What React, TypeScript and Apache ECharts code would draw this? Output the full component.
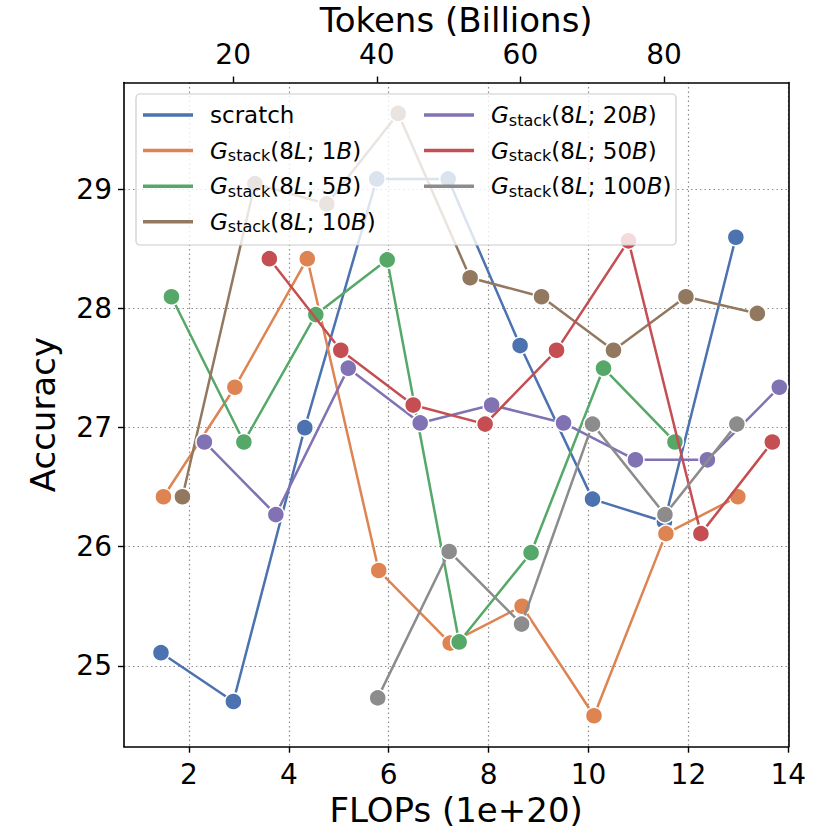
import React, { useEffect, useRef } from "react";
import * as echarts from "echarts";

const FONT = "DejaVu Sans";

const seriesNames = [
  "scratch",
  "G_stack(8L; 1B)",
  "G_stack(8L; 5B)",
  "G_stack(8L; 10B)",
  "G_stack(8L; 20B)",
  "G_stack(8L; 50B)",
  "G_stack(8L; 100B)",
];
const budgetLabels = ["", "1", "5", "10", "20", "50", "100"];
const seriesColors = ["#4C72B0", "#DD8452", "#55A868", "#937860", "#8172B3", "#C44E52", "#8C8C8C"];

const scratchX = [1.44, 2.89, 4.32, 5.76, 7.19, 8.63, 10.08, 11.52, 12.95];
const scratchY = [25.11, 24.70, 27.0, 29.09, 29.09, 27.69, 26.40, 26.21, 28.60];

const b1X = [1.49, 2.92, 4.37, 5.80, 7.23, 8.67, 10.11, 11.55, 12.99];
const b1Y = [26.42, 27.34, 28.42, 25.80, 25.19, 25.50, 24.58, 26.11, 26.42];

const b5X = [1.65, 3.10, 4.54, 5.97, 7.41, 8.85, 10.30, 11.73];
const b5Y = [28.10, 26.88, 27.95, 28.41, 25.20, 25.95, 27.50, 26.88];

const b10X = [1.87, 3.32, 4.76, 6.19, 7.63, 9.06, 10.50, 11.95, 13.38];
const b10Y = [26.42, 29.05, 28.88, 29.64, 28.26, 28.10, 27.65, 28.10, 27.96];

const b20X = [2.31, 3.74, 5.19, 6.63, 8.06, 9.50, 10.94, 12.38, 13.82];
const b20Y = [26.88, 26.27, 27.50, 27.04, 27.19, 27.04, 26.73, 26.73, 27.34];

const b50X = [3.61, 5.04, 6.49, 7.93, 9.36, 10.80, 12.25, 13.68];
const b50Y = [28.42, 27.65, 27.19, 27.03, 27.65, 28.57, 26.11, 26.88];

const b100X = [5.78, 7.21, 8.66, 10.08, 11.53, 12.97];
const b100Y = [24.73, 25.96, 25.35, 27.03, 26.27, 27.03];

const allX = [scratchX, b1X, b5X, b10X, b20X, b50X, b100X];
const allY = [scratchY, b1Y, b5Y, b10Y, b20Y, b50Y, b100Y];

const flopsTicks = [2, 4, 6, 8, 10, 12, 14];
const tokenTicks = [20, 40, 60, 80];
const accTicks = [25, 26, 27, 28, 29];

const X_MIN = 0.7;
const X_MAX = 14;
const T_MIN = 4.8;
const T_MAX = 97.3;
const Y_MIN = 24.32;
const Y_MAX = 29.9;

function legendFormatter(name: string): string {
  const idx = seriesNames.indexOf(name);
  if (idx <= 0) return "{n|" + name + "}";
  const b = budgetLabels[idx];
  return "{i|G}{s|stack}{n|(8}{i|L}{n|; " + b + "}{i|B}{n|)}";
}

const richStyles = {
  n: { fontFamily: FONT, fontSize: 23, lineHeight: 26, color: "#000" },
  i: { fontFamily: FONT, fontSize: 23, lineHeight: 26, fontStyle: "italic", color: "#000" },
  s: { fontFamily: FONT, fontSize: 16, lineHeight: 12, verticalAlign: "bottom", color: "#000" },
};

export default function App() {
  const ref = useRef<HTMLDivElement>(null);
  useEffect(() => {
    if (!ref.current) return;
    const chart = echarts.init(ref.current, undefined, { renderer: "svg" });
    const axisLineStyle = { color: "#000", width: 1.6 };
    const tickStyle = { color: "#000", width: 1.4 };
    const gridLineStyle = { color: "#8c8c8c", type: [1.5, 3] as any, width: 1.2 };
    const labelStyle = { fontFamily: FONT, fontSize: 28, color: "#000" };
    const nameStyle = { fontFamily: FONT, fontSize: 34, color: "#000" };

    const series = seriesNames.map((name, i) => ({
      type: "line",
      name,
      data: allX[i].map((x, j) => [x, allY[i][j]]),
      xAxisIndex: 0,
      yAxisIndex: 0,
      symbol: "circle",
      symbolSize: 17,
      z: 2 + i,
      itemStyle: { color: seriesColors[i], borderColor: "#fff", borderWidth: 1.5 },
      lineStyle: { color: seriesColors[i], width: 2.5 },
      emphasis: { disabled: true },
    }));

    const legendCommon = {
      orient: "vertical",
      padding: 0,
      itemWidth: 50,
      itemHeight: 3.5,
      itemGap: 9.6,
      icon: "rect",
      z: 31,
      selectedMode: false,
      itemStyle: { borderWidth: 0 },
      formatter: legendFormatter,
      textStyle: {
        fontFamily: FONT,
        fontSize: 23,
        lineHeight: 26,
        color: "#000",
        padding: [0, 0, 0, 12],
        rich: richStyles,
      },
    };

    chart.setOption({
      animation: false,
      backgroundColor: "#fff",
      grid: {
        left: 124,
        top: 82.5,
        right: 41.7,
        bottom: 83.3,
        containLabel: false,
        outerBoundsMode: "none",
      },
      graphic: {
        z: 30,
        elements: [
          {
            type: "rect",
            z: 30,
            shape: { x: 136, y: 94, width: 540, height: 151, r: 4 },
            style: { fill: "rgba(255,255,255,0.8)", stroke: "#cccccc", lineWidth: 1.2 },
          },
        ],
      },
      legend: [
        { ...legendCommon, left: 143, top: 102, data: seriesNames.slice(0, 4) },
        { ...legendCommon, left: 424, top: 102, data: seriesNames.slice(4) },
      ],
      xAxis: [
        {
          type: "value",
          position: "bottom",
          min: X_MIN,
          max: X_MAX,
          axisLine: { show: true, lineStyle: axisLineStyle },
          axisTick: { show: true, length: 6, lineStyle: tickStyle, customValues: flopsTicks },
          axisLabel: { ...labelStyle, margin: 14, customValues: flopsTicks },
          splitLine: { show: true, lineStyle: gridLineStyle },
          name: "FLOPs (1e+20)",
          nameLocation: "middle",
          nameGap: 46,
          nameMoveOverlap: false,
          nameTextStyle: nameStyle,
        },
        {
          type: "value",
          position: "top",
          min: T_MIN,
          max: T_MAX,
          axisLine: { show: true, lineStyle: axisLineStyle },
          axisTick: { show: true, length: 6, lineStyle: tickStyle, customValues: tokenTicks },
          axisLabel: { ...labelStyle, margin: 14, customValues: tokenTicks },
          splitLine: { show: false },
          name: "Tokens (Billions)",
          nameLocation: "middle",
          nameGap: 46,
          nameMoveOverlap: false,
          nameTextStyle: nameStyle,
        },
      ],
      yAxis: [
        {
          type: "value",
          position: "left",
          min: Y_MIN,
          max: Y_MAX,
          axisLine: { show: true, lineStyle: axisLineStyle },
          axisTick: { show: true, length: 6, lineStyle: tickStyle, customValues: accTicks },
          axisLabel: { ...labelStyle, margin: 12, customValues: accTicks },
          splitLine: { show: true, lineStyle: gridLineStyle },
          name: "Accuracy",
          nameLocation: "middle",
          nameGap: 64,
          nameRotate: 90,
          nameMoveOverlap: false,
          nameTextStyle: nameStyle,
        },
        {
          type: "value",
          position: "right",
          min: Y_MIN,
          max: Y_MAX,
          z: 1,
          axisLine: { show: true, lineStyle: axisLineStyle },
          axisTick: { show: false },
          axisLabel: { show: false },
          splitLine: { show: false },
        },
      ],
      series,
    });
    return () => chart.dispose();
  }, []);
  return (
    <div
      ref={ref}
      style={{ position: "absolute", left: 0, top: 0, width: 830, height: 830, background: "#fff" }}
    />
  );
}
